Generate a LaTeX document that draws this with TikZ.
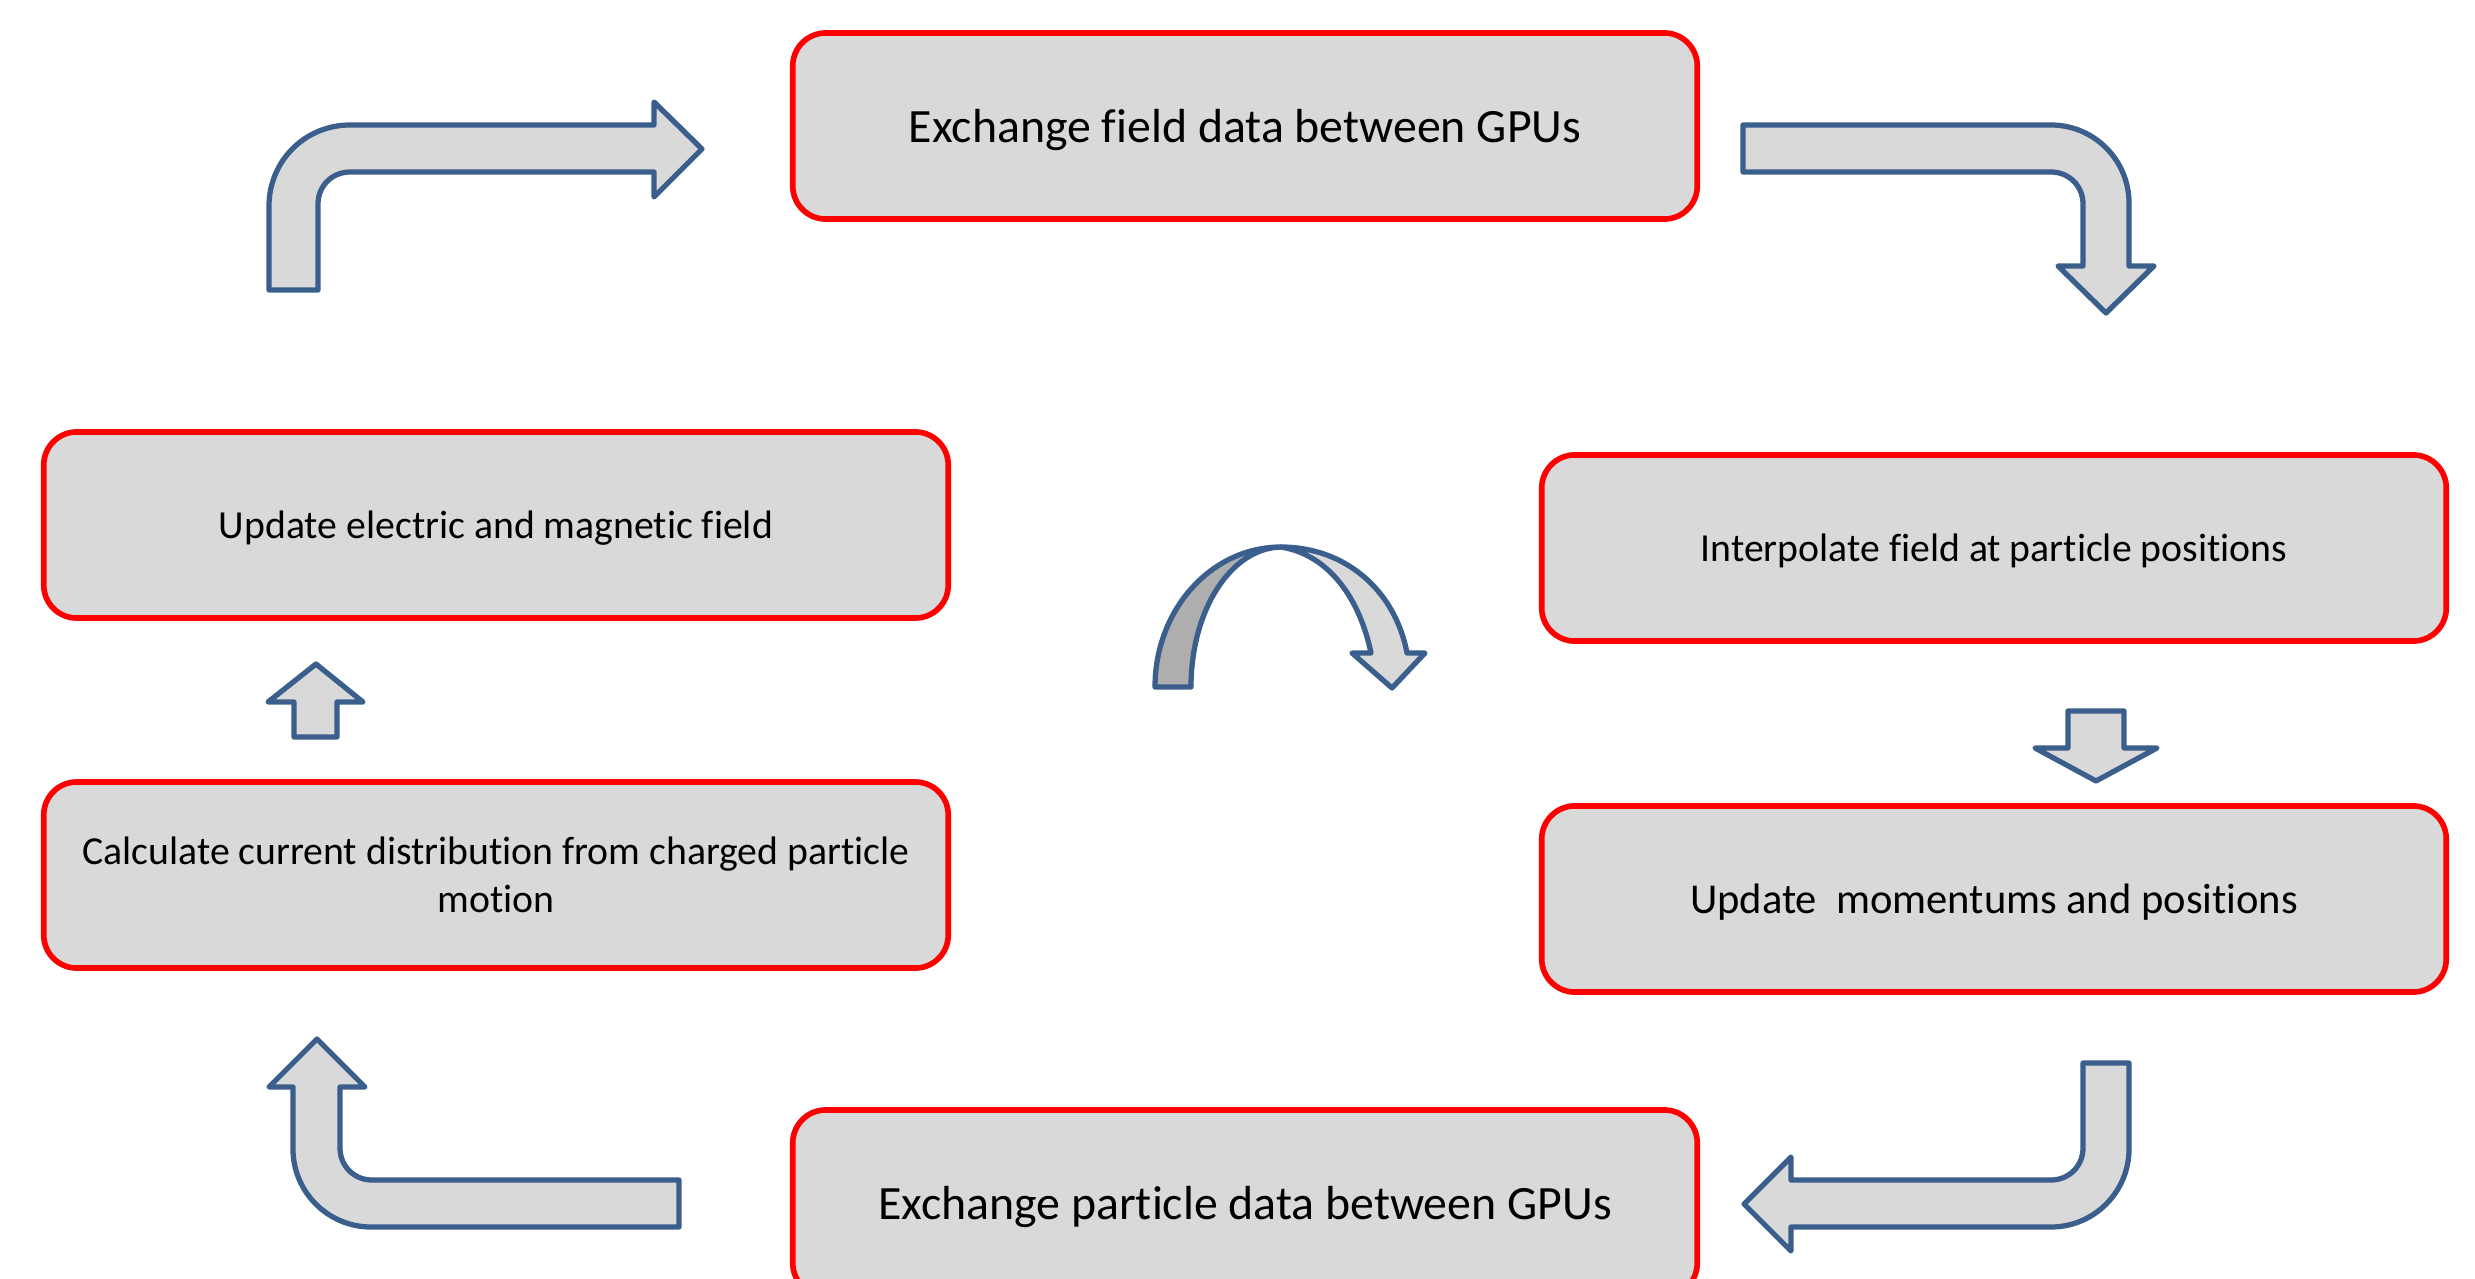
\documentclass[tikz,border=0pt]{standalone}
\usepackage{fontspec}
\setmainfont{Carlito}[Ligatures=NoCommon]
\definecolor{boxgray}{HTML}{D9D9D9}
\definecolor{backgray}{HTML}{AEAEAE}
\definecolor{boxred}{HTML}{FF0000}
\definecolor{arrowblue}{HTML}{3A5F8C}
\tikzset{
	stepbox/.style={rectangle, rounded corners=0.33cm, draw=boxred, line width=1.6pt, fill=boxgray,
		minimum width=9.04cm, minimum height=1.86cm, align=center, inner sep=0pt, text depth=0pt},
	bigtext/.style={font=\fontsize{13.6}{16}\selectfont},
	midtext/.style={font=\fontsize{12.1}{14.5}\selectfont},
	smalltext/.style={font=\fontsize{11.3}{13.7}\selectfont},
	blockarrow/.style={draw=arrowblue, line width=1.5pt, line join=round, fill=boxgray}
}

\begin{document}
\begin{tikzpicture}[x=0.01cm, y=-0.01cm]

\useasboundingbox (0,0) rectangle (2475,1279);
\clip (0,0) rectangle (2475,1279);

% the six steps of one time step
\node[stepbox, bigtext]   (fx) at (1245, 126)  {Exchange field data between GPUs};
\node[stepbox, smalltext] (em) at (496, 525)   {Update electric and magnetic field};
\node[stepbox, smalltext] (cj) at (496, 875)   {Calculate current distribution from charged particle\\motion};
\node[stepbox, smalltext] (ip) at (1994, 548)  {Interpolate field at particle positions};
\node[stepbox, midtext]   (pm) at (1994, 899)  {Update~~momentums and positions};
\node[stepbox, bigtext]   (px) at (1245, 1203) {Exchange particle data between GPUs};

% bent arrows round the loop
\draw[blockarrow] (269,290) -- (269,206) .. controls (269,161) and (305,125) .. (350,125)
	-- (654,125) -- (654,102) -- (702,149) -- (654,197) -- (654,172) -- (350,172)
	.. controls (332,172) and (318,186) .. (318,204) -- (318,290) -- cycle;

\draw[blockarrow] (1743,125) -- (2051,125) .. controls (2094,125) and (2129,160) .. (2129,203)
	-- (2129,266) -- (2154,266) -- (2106,313) -- (2058,266) -- (2083,266) -- (2083,204)
	.. controls (2083,186) and (2069,172) .. (2051,172) -- (1743,172) -- cycle;

\draw[blockarrow] (2083,1063) -- (2129,1063) -- (2129,1149) .. controls (2129,1192) and (2094,1227) .. (2051,1227)
	-- (1791,1227) -- (1791,1251) -- (1744,1204) -- (1791,1157) -- (1791,1180) -- (2051,1180)
	.. controls (2069,1180) and (2083,1166) .. (2083,1148) -- cycle;

\draw[blockarrow] (679,1180) -- (372,1180) .. controls (354,1180) and (340,1166) .. (340,1148)
	-- (340,1087) -- (365,1087) -- (317,1039) -- (269,1087) -- (293,1087) -- (293,1149)
	.. controls (293,1192) and (328,1227) .. (371,1227) -- (679,1227) -- cycle;

% short arrows between the side boxes
\draw[blockarrow] (294,737) -- (294,702) -- (268,702) -- (316,664) -- (363,702) -- (337,702) -- (337,737) -- cycle;
\draw[blockarrow] (2068,711) -- (2124,711) -- (2124,748) -- (2157,748) -- (2096,781) -- (2035,748) -- (2068,748) -- cycle;

% curved arrow in the middle
\draw[blockarrow, fill=backgray] (1155,687) .. controls (1155,610) and (1211,547) .. (1281,547)
	.. controls (1231,548) and (1191,610) .. (1191,687) -- cycle;
\draw[blockarrow] (1281,547) .. controls (1345,547) and (1395,590) .. (1407,653) -- (1425,653) -- (1392,688)
	-- (1352,653) -- (1371,653) .. controls (1360,600) and (1330,555) .. (1281,547) -- cycle;

\end{tikzpicture}
\end{document}
